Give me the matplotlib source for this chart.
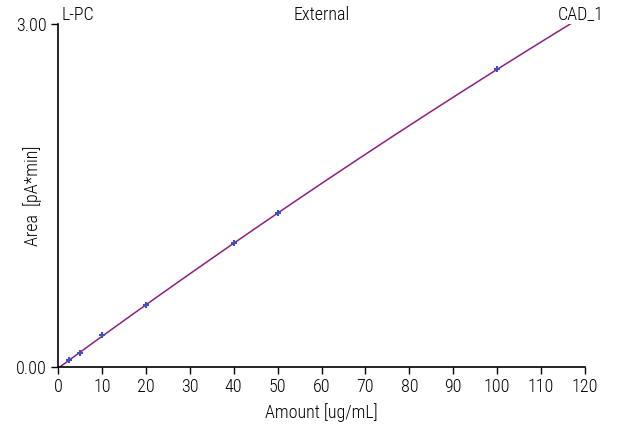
import numpy as np
import matplotlib
matplotlib.use("Agg")
import matplotlib.pyplot as plt

plt.rcParams['font.family'] = ['Roboto Condensed', 'Archivo Narrow', 'Liberation Sans Narrow',
                               'Liberation Sans', 'DejaVu Sans']
plt.rcParams['font.weight'] = 'light'
plt.rcParams['axes.labelweight'] = 'light'

# calibration points (amount in ug/mL, area in pA*min)
amount = [2.5, 5, 10, 20, 40, 50, 100]
area = [0.059, 0.117, 0.278, 0.538, 1.083, 1.343, 2.604]
x_ticks = [0, 10, 20, 30, 40, 50, 60, 70, 80, 90, 100, 110, 120]
y_ticks = [0.0, 3.0]
y_ticklabels = ['0.00', '3.00']

# quadratic calibration fit (CAD response), clipped at the top of the axis
coef = np.polyfit(amount, area, 2)
fit_x = np.linspace(0, 120, 300)
fit_y = np.polyval(coef, fit_x)

fig = plt.figure(figsize=(6.18, 4.30), dpi=100)
ax = fig.add_axes([0.0939, 0.147, 0.8527, 0.797])

ax.plot(fit_x, fit_y, color='#8c1f80', linewidth=1.1, zorder=2)
ax.plot(amount, area, '+', color='#3f4fc4', markersize=4, markeredgewidth=1.5, zorder=3)

ax.set_xlim(0, 120)
ax.set_ylim(0, 3.0)
ax.set_xticks(x_ticks)
ax.set_yticks(y_ticks)
ax.set_yticklabels(y_ticklabels)
ax.tick_params(direction='out', length=5, width=1, labelsize=13, colors='black', pad=3)
ax.spines['top'].set_visible(False)
ax.spines['right'].set_visible(False)
ax.spines['left'].set_linewidth(1.2)
ax.spines['bottom'].set_linewidth(1.2)

ax.set_xlabel('Amount [ug/mL]', fontsize=13, labelpad=5)
ax.set_ylabel('Area  [pA*min]', fontsize=13)
ax.yaxis.set_label_coords(-0.030, 0.5)

ax.text(0.006, 1.0, 'L-PC', transform=ax.transAxes, fontsize=13, ha='left', va='bottom')
ax.text(0.5, 1.0, 'External', transform=ax.transAxes, fontsize=13, ha='center', va='bottom')
ax.text(1.035, 1.0, 'CAD_1', transform=ax.transAxes, fontsize=13, ha='right', va='bottom')

fig.savefig('out.png', dpi=100)
